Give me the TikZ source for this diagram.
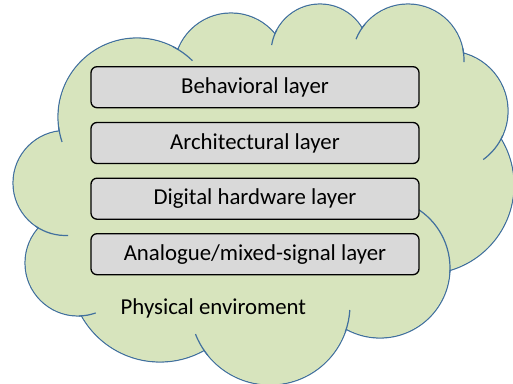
\documentclass[tikz,border=0pt]{standalone}
\usepackage{fontspec}
\setmainfont{Carlito}
\definecolor{cloudfill}{HTML}{D7E4BD}
\definecolor{cloudline}{HTML}{41709E}
\definecolor{boxfill}{HTML}{D9D9D9}
\begin{document}
\begin{tikzpicture}[x=1pt,y=1pt,
  layerbox/.style={draw=black, line width=1.3pt, fill=boxfill, rounded corners=6pt,
    minimum width=328pt, minimum height=41pt, inner sep=0pt,
    font=\fontsize{22.8}{27}\selectfont},
  cloudedge/.style={draw=cloudline, line width=1.2pt},
  labeltext/.style={inner sep=0pt, font=\fontsize{22.8}{27}\selectfont}]
\useasboundingbox (0,0) rectangle (513,383);
\def\lobes{137/266/79, 231/313/57, 320/330/49, 408/323/56, 448/272/60, 425/198/89, 380/115/70, 270/78/80, 160/111/90, 78/120/53, 65.5/200/52.5}
\def\core{(137,266) -- (231,313) -- (320,330) -- (408,323) -- (448,272) -- (425,198) -- (380,115) -- (270,78) -- (160,111) -- (78,120) -- (65.5,200) -- cycle}
\fill[cloudfill] \core;
\foreach \cx/\cy/\r in \lobes {\draw[cloudedge, fill=cloudfill] (\cx,\cy) circle[radius=\r];}
\foreach \cx/\cy/\r in \lobes {\fill[cloudfill] (\cx,\cy) circle[radius=\r-0.7];}
\fill[cloudfill] \core;
% inner stubs
\draw[cloudedge] (137,266) ++(63:79) arc[start angle=63, end angle=45.5, radius=79];
\draw[cloudedge] (320,330) ++(152:49) arc[start angle=152, end angle=170.7, radius=49];
\draw[cloudedge] (408,323) ++(140:56) arc[start angle=140, end angle=158.2, radius=56];
\draw[cloudedge] (408,323) ++(12:56) arc[start angle=12, end angle=-2.2, radius=56];
\draw[cloudedge] (448,272) ++(-24:60) arc[start angle=-24, end angle=-54, radius=60];
\draw[cloudedge] (380,115) ++(60:70) arc[start angle=60, end angle=-4, radius=70];
\draw[cloudedge] (270,78) ++(-20:80) arc[start angle=-20, end angle=-3.6, radius=80];
\draw[cloudedge] (270,78) ++(-141:80) arc[start angle=-141, end angle=-158.7, radius=80];
\draw[cloudedge] (78,120) ++(-89:53) arc[start angle=-89, end angle=-70.5, radius=53];
\draw[cloudedge] (65.5,200) ++(-125:52.5) arc[start angle=-125, end angle=-87.2, radius=52.5];
\draw[cloudedge] (137,266) ++(-173:79) arc[start angle=-173, end angle=-161.6, radius=79];
% layers
\node[layerbox] (beh) at (255,295.8) {Behavioral layer};
\node[layerbox] (arch) at (255,240) {Architectural layer};
\node[layerbox] (dig) at (255,184.3) {Digital hardware layer};
\node[layerbox] (ana) at (255,128.8) {Analogue/mixed-signal layer};
\node[labeltext, anchor=base west] (phys) at (120.5,69) {Physical enviroment};
\end{tikzpicture}
\end{document}
